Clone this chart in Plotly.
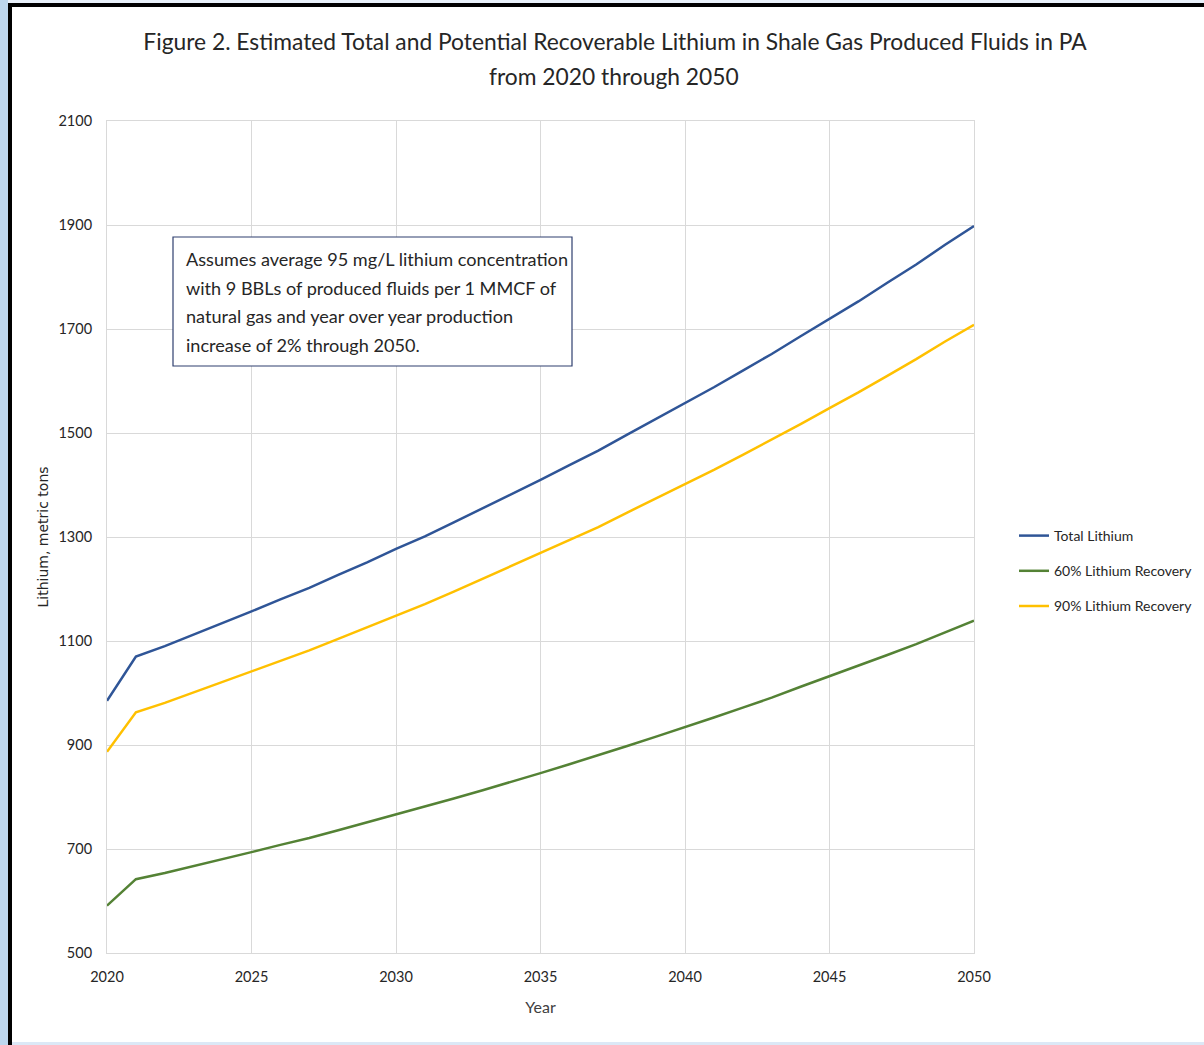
import plotly.graph_objects as go

years = list(range(2020, 2051))
total_lithium = [985, 1070, 1090, 1112, 1134, 1157, 1180, 1202, 1227, 1251, 1277,
                 1301, 1328, 1355, 1382, 1410, 1438, 1466, 1497, 1527, 1557,
                 1588, 1620, 1652, 1686, 1720, 1753, 1789, 1824, 1862, 1898]
recovery_60 = [591, 642, 654, 667, 680, 694, 708, 721, 736, 751, 766,
               781, 797, 813, 829, 846, 863, 880, 898, 916, 934,
               953, 972, 991, 1012, 1032, 1052, 1073, 1094, 1117, 1139]
recovery_90 = [887, 963, 981, 1001, 1021, 1041, 1062, 1082, 1104, 1126, 1149,
               1171, 1195, 1220, 1244, 1269, 1294, 1319, 1347, 1374, 1401,
               1429, 1458, 1487, 1517, 1548, 1578, 1610, 1642, 1676, 1708]
series_names = ["Total Lithium", "60% Lithium Recovery", "90% Lithium Recovery"]
y_ticks = [500, 700, 900, 1100, 1300, 1500, 1700, 1900, 2100]
x_ticks = [2020, 2025, 2030, 2035, 2040, 2045, 2050]

title_line1 = "Figure 2. Estimated Total and Potential Recoverable Lithium in Shale Gas Produced Fluids in PA"
title_line2 = "from 2020 through 2050"
note_lines = ["Assumes average 95 mg/L lithium concentration",
              "with 9 BBLs of produced fluids per 1 MMCF of",
              "natural gas and year over year production",
              "increase of 2% through 2050."]

FONT = "Lato, Roboto, Arial, sans-serif"
colors = ["#2F5597", "#548235", "#FFC000"]

W, H = 1204, 1045
L, R, T, B = 107, 974, 121, 953

def px(x):
    return (x - L) / (R - L)

def py(y):
    return (B - y) / (B - T)

fig = go.Figure()
for name, vals, c in zip(series_names, [total_lithium, recovery_60, recovery_90], colors):
    fig.add_trace(go.Scatter(x=years, y=vals, mode="lines", name=name, legendgroup=name,
                             line=dict(color=c, width=2.5)))

shapes = [
    dict(type="rect", xref="paper", yref="paper", x0=px(0), x1=px(1204), y0=py(3), y1=py(0),
         fillcolor="#E8F0FA", line=dict(width=0), layer="below"),
    dict(type="rect", xref="paper", yref="paper", x0=px(0), x1=px(8), y0=py(1045), y1=py(0),
         fillcolor="#BDD7EE", line=dict(width=0), layer="below"),
    dict(type="rect", xref="paper", yref="paper", x0=px(8), x1=px(12), y0=py(1045), y1=py(3),
         fillcolor="#000000", line=dict(width=0)),
    dict(type="rect", xref="paper", yref="paper", x0=px(8), x1=px(1204), y0=py(7), y1=py(3),
         fillcolor="#000000", line=dict(width=0)),
    dict(type="rect", xref="paper", yref="paper", x0=px(12), x1=px(1204), y0=py(1045), y1=py(1042),
         fillcolor="#DCE8F6", line=dict(width=0)),
    # note box
    dict(type="rect", xref="paper", yref="paper", x0=px(173), x1=px(572), y0=py(366), y1=py(237),
         fillcolor="white", line=dict(color="#2F3F6F", width=1.2)),
]

annotations = [dict(text=title_line2, xref="paper", yref="paper", x=px(614), y=py(76),
                    xanchor="center", yanchor="middle", showarrow=False,
                    font=dict(family=FONT, size=22.8, color="#262626"))]
for i, line in enumerate(note_lines):
    annotations.append(dict(text=line, xref="paper", yref="paper", x=px(184), y=py(259 + i * 28.5),
                            xanchor="left", yanchor="middle", align="left", showarrow=False,
                            font=dict(family=FONT, size=18.1, color="#262626")))

fig.update_layout(
    width=W, height=H,
    margin=dict(l=L, r=W - R, t=T, b=H - B, autoexpand=False),
    paper_bgcolor="white", plot_bgcolor="white",
    font=dict(family=FONT, color="#404040", size=13),
    title=dict(text=title_line1, x=615 / W, xanchor="center", y=1 - 42 / H, yanchor="middle",
               font=dict(family=FONT, size=22.8, color="#262626")),
    xaxis=dict(range=[2020, 2050], tickvals=x_ticks, showgrid=True, gridcolor="#D9D9D9", gridwidth=1,
               showline=True, linecolor="#D9D9D9", mirror=True, zeroline=False, ticks="",
               ticklabelstandoff=11,
               title=dict(text="Year", font=dict(family=FONT, size=16, color="#404040"), standoff=17),
               tickfont=dict(family=FONT, size=14.5, color="#262626")),
    yaxis=dict(range=[500, 2100], tickvals=y_ticks, showgrid=True, gridcolor="#D9D9D9", gridwidth=1,
               showline=True, linecolor="#D9D9D9", mirror=True, zeroline=False, ticks="",
               ticklabelstandoff=11,
               title=dict(text="Lithium, metric tons", font=dict(family="DejaVu Sans, sans-serif", size=14, color="#262626"), standoff=6),
               tickfont=dict(family=FONT, size=14.5, color="#262626")),
    legend=dict(x=px(1014), y=py(520), xanchor="left", yanchor="top", bgcolor="rgba(0,0,0,0)",
                font=dict(family=FONT, size=14, color="#262626"), tracegroupgap=14, itemwidth=30),
    shapes=shapes,
    annotations=annotations,
)

fig.write_html("out.html", config={"displayModeBar": False},
               post_script="document.body.style.margin='0px';")
